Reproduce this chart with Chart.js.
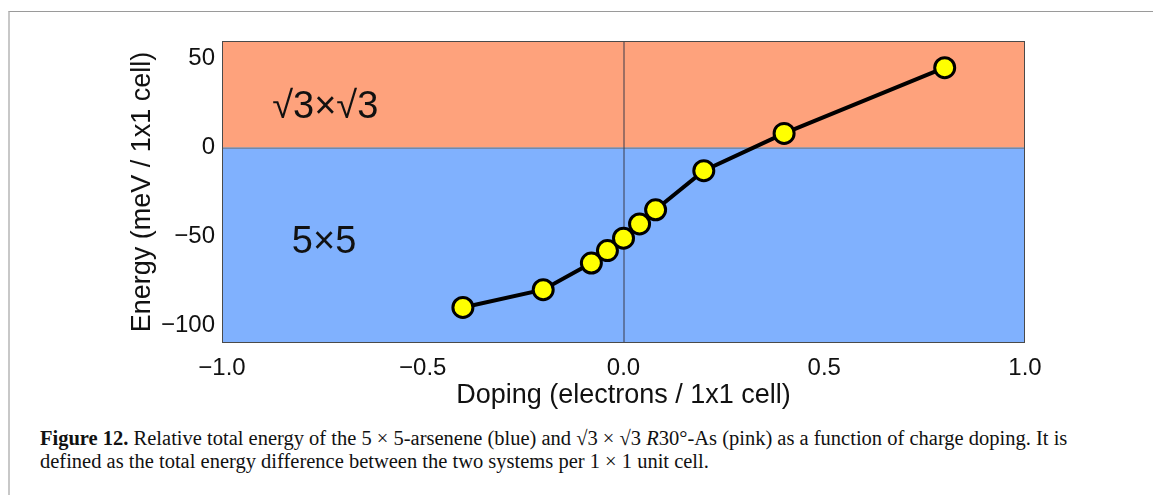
<!DOCTYPE html>
<html>
<head>
<meta charset="utf-8">
<script src="https://cdn.jsdelivr.net/npm/chart.js@4"></script>
<style>
  body { margin: 0; background: #fff; }
  .frame {
    position: absolute; left: 8px; top: 11px; right: 0; bottom: 0;
    border-top: 1px solid #9a9a9a; border-left: 2px solid #c8c8c8;
  }
  #myChart { position: absolute; left: 0; top: 0; }
  .caption {
    position: absolute; left: 40px; top: 427px;
    font-family: "Liberation Serif", serif; font-size: 20.5px; line-height: 23px;
    color: #111; white-space: nowrap;
  }
</style>
</head>
<body>
<div class="frame"></div>
<canvas id="myChart" width="1153" height="420"></canvas>
<div class="caption">
  <div><b>Figure 12.</b> Relative total energy of the 5 × 5-arsenene (blue) and √3 × √3 <i>R</i>30°-As (pink) as a function of charge doping. It is</div>
  <div>defined as the total energy difference between the two systems per 1 × 1 unit cell.</div>
</div>
<script>
// data
const doping = [-0.4, -0.2, -0.08, -0.04, 0, 0.04, 0.08, 0.2, 0.4, 0.8];
const energy = [-90, -80, -65, -58, -51, -43, -35, -13, 8, 45];
const xTicks = [-1, -0.5, 0, 0.5, 1];
const yTicks = [-100, -50, 0, 50];
const regionNames = ['√3×√3', '5×5'];

const pink = '#fea27c';
const blue = '#80b1fe';

function minus(s) {
    return String(s).replace('-', '\u2212');
}

// coloured halves + frame + region names
const background = {
    id: 'background',
    beforeDatasetsDraw(chart) {
        let ctx = chart.ctx, a = chart.chartArea;
        let y0 = chart.scales.y.getPixelForValue(0);
        ctx.save();
        ctx.fillStyle = pink;
        ctx.fillRect(a.left, a.top, a.right - a.left, y0 - a.top);
        ctx.fillStyle = blue;
        ctx.fillRect(a.left, y0, a.right - a.left, a.bottom - y0);
        // zero lines
        ctx.lineWidth = 1;
        ctx.strokeStyle = '#6b6b6b';
        ctx.beginPath();
        ctx.moveTo(a.left, y0 + 0.5); ctx.lineTo(a.right, y0 + 0.5);
        ctx.stroke();
        let x0 = chart.scales.x.getPixelForValue(0);
        ctx.strokeStyle = '#3a3a4a';
        ctx.beginPath();
        ctx.moveTo(x0 + 0.5, a.top); ctx.lineTo(x0 + 0.5, a.bottom);
        ctx.stroke();
        ctx.strokeStyle = '#4a4a4a';
        ctx.strokeRect(a.left + 0.5, a.top + 0.5, a.right - a.left - 1, a.bottom - a.top - 1);
        // region names
        ctx.fillStyle = '#111';
        ctx.font = '38px "Liberation Sans", Arial, sans-serif';
        ctx.textBaseline = 'middle';
        ctx.fillText(regionNames[0], chart.scales.x.getPixelForValue(-0.875), chart.scales.y.getPixelForValue(22.5));
        ctx.fillText(regionNames[1], chart.scales.x.getPixelForValue(-0.826), chart.scales.y.getPixelForValue(-53.5));
        ctx.restore();
    }
};

const ctx = document.getElementById('myChart');
const myChart = new Chart(ctx, {
    type: 'scatter',
    data: {
        datasets: [{
            data: doping.map((d, i) => ({x: d, y: energy[i]})),
            showLine: true,
            borderColor: '#000',
            borderWidth: 4,
            pointRadius: 10,
            pointBorderWidth: 3,
            pointBorderColor: '#000',
            pointBackgroundColor: '#ffff00'
        }]
    },
    options: {
        responsive: false,
        animation: false,
        devicePixelRatio: 1,
        layout: { padding: { left: 120, top: 41, right: 128, bottom: 0 } },
        plugins: { legend: { display: false }, tooltip: { enabled: false } },
        scales: {
            x: {
                min: -1, max: 1,
                afterBuildTicks: s => { s.ticks = xTicks.map(v => ({value: v})); },
                afterFit: s => { s.height = 77; },
                grid: { display: false, drawTicks: false },
                border: { display: false },
                ticks: {
                    padding: 11,
                    color: '#111',
                    font: { family: '"Liberation Sans", Arial, sans-serif', size: 24 },
                    callback: v => minus(v.toFixed(1))
                },
                title: {
                    display: true,
                    text: 'Doping (electrons / 1x1 cell)',
                    color: '#111',
                    font: { family: '"Liberation Sans", Arial, sans-serif', size: 27 },
                    padding: { top: 0, bottom: 8 }
                }
            },
            y: {
                min: -110, max: 60,
                afterBuildTicks: s => { s.ticks = yTicks.map(v => ({value: v})); },
                afterFit: s => { s.width = 102; },
                grid: { display: false, drawTicks: false },
                border: { display: false },
                ticks: {
                    padding: 7,
                    color: '#111',
                    font: { family: '"Liberation Sans", Arial, sans-serif', size: 24 },
                    callback: v => minus(v)
                },
                title: {
                    display: true,
                    text: 'Energy (meV / 1x1 cell)',
                    color: '#111',
                    font: { family: '"Liberation Sans", Arial, sans-serif', size: 27 },
                    padding: { top: 6, bottom: 0 }
                }
            }
        }
    },
    plugins: [background]
});
</script>
</body>
</html>
